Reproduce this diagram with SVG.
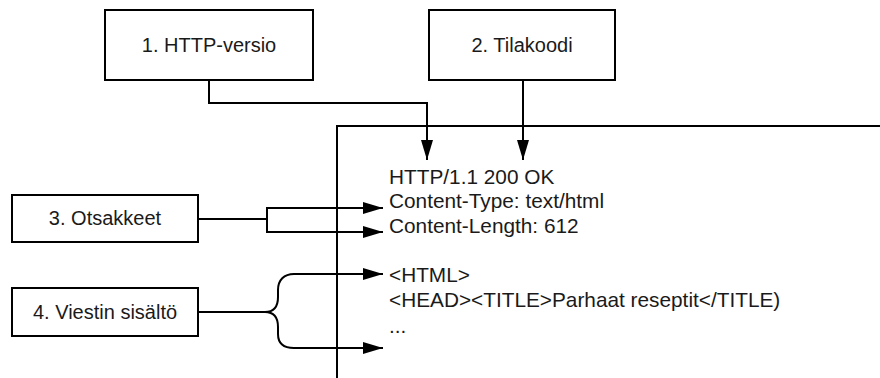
<svg xmlns="http://www.w3.org/2000/svg" width="880" height="378" viewBox="0 0 880 378">
<style>
.box{fill:#fff;stroke:#000;stroke-width:2}
.lbl{font-family:"Liberation Sans",Arial,sans-serif;font-size:20px;fill:#1a1a1a;text-anchor:middle}
.msg{font-family:"Liberation Sans",Arial,sans-serif;font-size:20.8px;fill:#1a1a1a}
.con{fill:none;stroke:#000;stroke-width:2}
</style>
<defs>
<marker id="arr" viewBox="0 0 20 12" refX="20" refY="6" markerWidth="20" markerHeight="12" markerUnits="userSpaceOnUse" orient="auto">
<path d="M0,0 L20,6 L0,12 Z" fill="#000"/>
</marker>
</defs>
<rect width="880" height="378" fill="#fff"/>
<g id="frame">
<path class="con" d="M337,378 V126 H880"/>
</g>
<g id="message">
<text class="msg" x="389" y="184">HTTP/1.1 200 OK</text>
<text class="msg" x="389" y="208">Content-Type: text/html</text>
<text class="msg" x="389" y="233">Content-Length: 612</text>
<text class="msg" x="389" y="282">&lt;HTML&gt;</text>
<text class="msg" x="389" y="307">&lt;HEAD&gt;&lt;TITLE&gt;Parhaat reseptit&lt;/TITLE)</text>
<text class="msg" x="389" y="333">...</text>
</g>
<g id="connectors">
<path class="con" d="M209,80 V103 H427 V160" marker-end="url(#arr)"/>
<path class="con" d="M523,80 V160" marker-end="url(#arr)"/>
<path class="con" d="M198,219 H267 V208 H383" marker-end="url(#arr)"/>
<path class="con" d="M267,219 V232 H383" marker-end="url(#arr)"/>
<path class="con" d="M198,312 H265 C274,312 278,306 278,297 L278,290 C278,280 284,274 294,274 H383" marker-end="url(#arr)"/>
<path class="con" d="M265,312 C274,312 278,318 278,327 L278,334 C278,344 284,348 294,348 H383" marker-end="url(#arr)"/>
</g>
<g id="node1">
<rect class="box" x="105" y="10" width="208" height="70"/>
<text class="lbl" x="209" y="52">1. HTTP-versio</text>
</g>
<g id="node2">
<rect class="box" x="429" y="10" width="186" height="70"/>
<text class="lbl" x="522" y="52">2. Tilakoodi</text>
</g>
<g id="node3">
<rect class="box" x="12" y="195" width="186" height="47"/>
<text class="lbl" x="105" y="225">3. Otsakkeet</text>
</g>
<g id="node4">
<rect class="box" x="12" y="288" width="186" height="48"/>
<text class="lbl" x="105" y="319">4. Viestin sisältö</text>
</g>
</svg>
